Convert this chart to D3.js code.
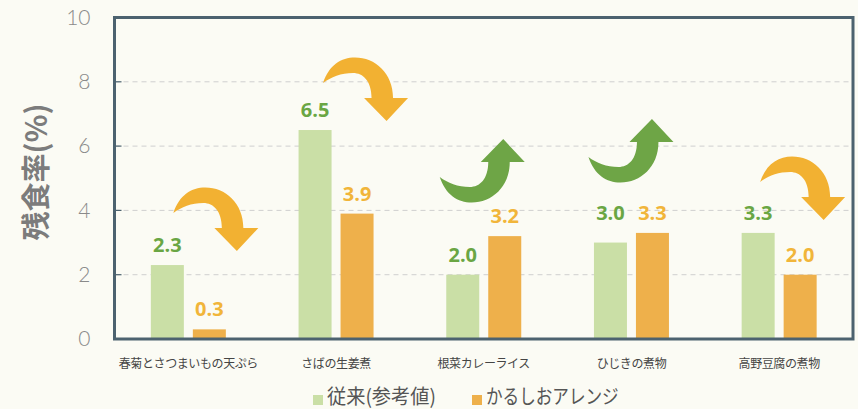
<!DOCTYPE html>
<html>
<head>
<meta charset="utf-8">
<script src="https://cdn.jsdelivr.net/npm/d3@7"></script>
<style>
  html, body { margin: 0; padding: 0; background: #fbfbf4; }
  svg { display: block; }
</style>
</head>
<body>
<svg id="chart" width="858" height="409"></svg>
<script>
// 料理ごとの残食率（%）
const categories = ["春菊とさつまいもの天ぷら", "さばの生姜煮", "根菜カレーライス", "ひじきの煮物", "高野豆腐の煮物"];
const conventional = [2.3, 6.5, 2.0, 3.0, 3.3];   // 従来(参考値)
const karushio = [0.3, 3.9, 3.2, 3.3, 2.0];       // かるしおアレンジ
const seriesNames = ["従来(参考値)", "かるしおアレンジ"];
const yTicks = [0, 2, 4, 6, 8, 10];

// Curved-arrow placement relative to each group's centre and its taller bar
const arrowOffset = [[-15, -52], [-13, -47], [-44, -59], [-43, -76], [-19, -51]];

const W = 858, H = 409;
const plot = { left: 114.5, right: 853, top: 17.5, bottom: 339 };

const colors = {
  barGreen: "#cadfa6", barOrange: "#eeb04b",
  textGreen: "#6aa644", textOrange: "#f1b53a",
  arrowGreen: "#6ea546", arrowOrange: "#f2b132",
  frame: "#4c626f", grid: "#cfcfcf"
};

const svg = d3.select("#chart");

const x0 = d3.scaleBand().domain(categories).range([plot.left, plot.right]).padding(0);
const bw = x0.bandwidth();
const x1 = d3.scaleBand().domain(seriesNames).range([bw / 2 - 37.5, bw / 2 + 37.5]).paddingInner(0.214);
const y = d3.scaleLinear().domain([0, 10]).range([plot.bottom, plot.top]);

// dashed grid lines
svg.append("g").selectAll("line")
  .data(yTicks.filter(t => t > 0 && t < 10))
  .join("line")
  .attr("x1", plot.left).attr("x2", plot.right)
  .attr("y1", d => y(d)).attr("y2", d => y(d))
  .attr("stroke", colors.grid).attr("stroke-width", 1)
  .attr("stroke-dasharray", "5,4");

// y-axis tick labels
const yAxis = d3.axisLeft(y).tickValues(yTicks).tickSize(0).tickPadding(0).tickFormat(d3.format("d"));
const gy = svg.append("g").attr("transform", `translate(${plot.left - 24},0)`).call(yAxis);
gy.select(".domain").remove();
gy.selectAll("text")
  .attr("font-family", "Lato, 'Open Sans', sans-serif")
  .attr("font-weight", 300)
  .attr("font-size", 21)
  .attr("fill", "#8a8a8a");

// inner tick marks on the left frame
svg.append("g").selectAll("line")
  .data(yTicks.filter(t => t > 0 && t < 10))
  .join("line")
  .attr("x1", plot.left).attr("x2", plot.left + 7)
  .attr("y1", d => y(d)).attr("y2", d => y(d))
  .attr("stroke", colors.frame).attr("stroke-width", 1.2);

// bars
const rows = categories.map((c, i) => ({ cat: c, i, vals: [conventional[i], karushio[i]] }));
const barColors = [colors.barGreen, colors.barOrange];
const textColors = [colors.textGreen, colors.textOrange];

const groups = svg.append("g").selectAll("g")
  .data(rows).join("g")
  .attr("transform", d => `translate(${x0(d.cat)},0)`);

groups.selectAll("rect")
  .data(d => d.vals.map((v, k) => ({ v, k })))
  .join("rect")
  .attr("x", d => x1(seriesNames[d.k]))
  .attr("width", x1.bandwidth())
  .attr("y", d => y(d.v))
  .attr("height", d => y(0) - y(d.v))
  .attr("fill", d => barColors[d.k]);

// value labels (aligned when the two values are close)
groups.selectAll("text.val")
  .data(d => d.vals.map((v, k) => ({ v, k, other: d.vals[1 - k] })))
  .join("text")
  .attr("class", "val")
  .attr("x", d => x1(seriesNames[d.k]) + x1.bandwidth() / 2)
  .attr("y", d => (Math.abs(d.v - d.other) < 0.5 ? y(Math.max(d.v, d.other)) : y(d.v)) - 13)
  .attr("text-anchor", "middle")
  .attr("font-family", "'Open Sans', sans-serif")
  .attr("font-weight", 700)
  .attr("font-size", 20)
  .attr("fill", d => textColors[d.k])
  .text(d => d3.format(".1f")(d.v));

// curved arrows: orange turning down when the value drops, green turning up when it rises
const arrowPath = "M0,0 C6,-18 18,-25.5 32,-25.5 C52,-25.5 70,-10 70,15 L85,15 L63.5,38 L41,15 L48.5,15 C48.5,-2 40,-10 30,-10 C18,-10 8,-6 0,0 Z";
svg.append("g").selectAll("path")
  .data(rows).join("path")
  .attr("d", arrowPath)
  .attr("fill", d => d.vals[1] < d.vals[0] ? colors.arrowOrange : colors.arrowGreen)
  .attr("transform", d => {
    const cx = x0(d.cat) + bw / 2 + arrowOffset[d.i][0];
    const cy = y(Math.max(...d.vals)) + arrowOffset[d.i][1];
    const flip = d.vals[1] < d.vals[0] ? 1 : -1;
    return `translate(${cx},${cy}) scale(1,${flip})`;
  });

// frame
svg.append("rect")
  .attr("x", plot.left).attr("y", plot.top)
  .attr("width", plot.right - plot.left).attr("height", plot.bottom - plot.top)
  .attr("fill", "none").attr("stroke", colors.frame).attr("stroke-width", 3);

// category labels
svg.append("g").selectAll("text")
  .data(categories).join("text")
  .attr("x", d => x0(d) + bw / 2)
  .attr("y", 368)
  .attr("text-anchor", "middle")
  .attr("font-family", "'Noto Sans CJK JP', sans-serif")
  .attr("font-size", 12)
  .attr("letter-spacing", -0.4)
  .attr("fill", "#454545")
  .text(d => d);

// y-axis title
svg.append("text")
  .attr("transform", `translate(47,172) rotate(-90)`)
  .attr("text-anchor", "middle")
  .attr("font-family", "'Noto Sans CJK JP', sans-serif")
  .attr("font-weight", 700)
  .attr("font-size", 29)
  .attr("fill", "#7c7c7c")
  .text("残食率(%)");

// legend: swatch plus a horizontally condensed label
const legendX = [313, 472];
const legendSquash = [0.96, 0.83];
const lg = svg.append("g").selectAll("g")
  .data(seriesNames).join("g")
  .attr("transform", (d, k) => `translate(${legendX[k]},395)`);
lg.append("rect").attr("width", 10).attr("height", 10).attr("fill", (d, k) => barColors[k]);
lg.append("text")
  .attr("transform", (d, k) => `translate(14,9) scale(${legendSquash[k]},1)`)
  .attr("font-family", "'Noto Sans CJK JP', sans-serif")
  .attr("font-size", 20)
  .attr("fill", "#555")
  .text(d => d);
</script>
</body>
</html>
